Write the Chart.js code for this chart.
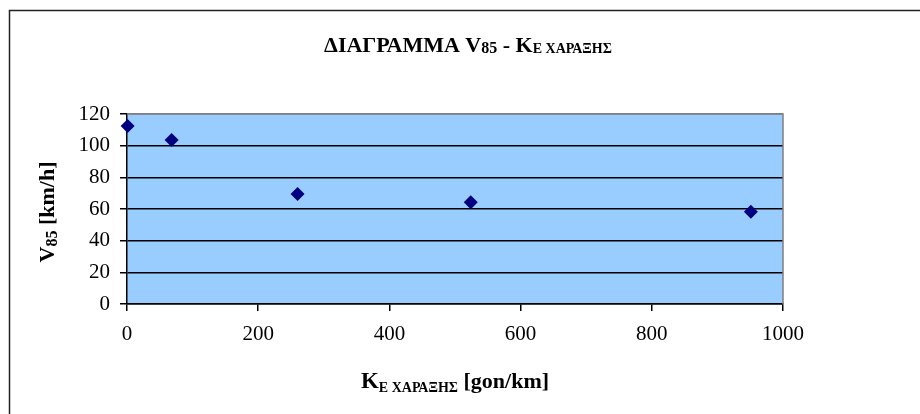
<!DOCTYPE html>
<html>
<head>
<meta charset="utf-8">
<script src="https://cdn.jsdelivr.net/npm/chart.js@4/dist/chart.umd.min.js"></script>
<style>
  html, body { margin: 0; padding: 0; background: #ffffff; }
  canvas { display: block; }
</style>
</head>
<body>
<canvas id="chart" width="920" height="414"></canvas>
<script>
// Curvature of the alignment (gon/km) and the operating speed V85 (km/h)
const kValues = [1, 68, 260, 524, 951];
const v85Values = [112.4, 103.6, 69.5, 64.2, 58.3];

// Axis ranges and steps
const xTicks = [0, 200, 400, 600, 800, 1000];
const yTicks = [0, 20, 40, 60, 80, 100, 120];

const SERIF = '"Liberation Serif", "Times New Roman", serif';

const points = kValues.map((k, i) => ({ x: k, y: v85Values[i] }));

// Draws a run of text pieces (each with its own font and baseline shift)
function drawRuns(ctx, runs, x, y, align) {
  let total = 0;
  runs.forEach(r => { ctx.font = r.font; r.w = ctx.measureText(r.text).width; total += r.w; });
  let cx = align === 'center' ? x - total / 2 : x;
  ctx.textAlign = 'left';
  ctx.textBaseline = 'alphabetic';
  runs.forEach(r => {
    ctx.font = r.font;
    ctx.fillText(r.text, cx, y + (r.dy || 0));
    cx += r.w;
  });
}

const decorPlugin = {
  id: 'decor',
  beforeDraw(chart) {
    const ctx = chart.ctx;
    const a = chart.chartArea;
    ctx.save();
    ctx.fillStyle = '#ffffff';
    ctx.fillRect(0, 0, chart.width, chart.height);
    // chart frame (top and left edges)
    ctx.strokeStyle = '#222222';
    ctx.lineWidth = 1.5;
    ctx.beginPath();
    ctx.moveTo(9.5, chart.height);
    ctx.lineTo(9.5, 10.5);
    ctx.lineTo(chart.width, 10.5);
    ctx.stroke();
    // plot area
    ctx.fillStyle = '#99CCFF';
    ctx.fillRect(a.left, a.top, a.right - a.left, a.bottom - a.top);
    ctx.restore();
  },
  beforeDatasetsDraw(chart) {
    const ctx = chart.ctx;
    const a = chart.chartArea;
    ctx.save();
    ctx.strokeStyle = '#808080';
    ctx.lineWidth = 1.5;
    ctx.beginPath();
    ctx.moveTo(a.left, a.top);
    ctx.lineTo(a.right, a.top);
    ctx.lineTo(a.right, a.bottom);
    ctx.stroke();
    ctx.restore();
  },
  afterDraw(chart) {
    const ctx = chart.ctx;
    const a = chart.chartArea;
    ctx.save();
    ctx.fillStyle = '#000000';
    // chart title
    drawRuns(ctx, [
      { text: 'ΔΙΑΓΡΑΜΜΑ V', font: 'bold 22px ' + SERIF },
      { text: '85', font: 'bold 16px ' + SERIF, dy: 1 },
      { text: ' - K', font: 'bold 22px ' + SERIF },
      { text: 'Ε ΧΑΡΑΞΗΣ', font: 'bold 14px ' + SERIF, dy: 1 }
    ], 468, 52, 'center');
    // x axis title
    drawRuns(ctx, [
      { text: 'K', font: 'bold 23px ' + SERIF },
      { text: 'Ε ΧΑΡΑΞΗΣ', font: 'bold 14px ' + SERIF, dy: 4 },
      { text: ' [gon/km]', font: 'bold 22px ' + SERIF }
    ], (a.left + a.right) / 2, 388, 'center');
    // y axis title (rotated)
    ctx.translate(54, (a.top + a.bottom) / 2 + 3);
    ctx.rotate(-Math.PI / 2);
    drawRuns(ctx, [
      { text: 'V', font: 'bold 22px ' + SERIF },
      { text: '85', font: 'bold 16px ' + SERIF, dy: 3 },
      { text: ' [km/h]', font: 'bold 22px ' + SERIF }
    ], 0, 0, 'center');
    ctx.restore();
  }
};

new Chart(document.getElementById('chart'), {
  type: 'scatter',
  data: {
    datasets: [{
      data: points,
      pointStyle: 'rectRot',
      pointRadius: 7,
      pointBackgroundColor: '#000080',
      pointBorderColor: '#000080',
      pointBorderWidth: 0,
      clip: false
    }]
  },
  options: {
    responsive: false,
    animation: false,
    events: [],
    layout: { padding: { left: 0, right: 137, top: 114, bottom: 70 } },
    plugins: { legend: { display: false }, tooltip: { enabled: false }, title: { display: false } },
    scales: {
      x: {
        type: 'linear',
        min: xTicks[0],
        max: xTicks[xTicks.length - 1],
        afterBuildTicks(scale) { scale.ticks = xTicks.map(v => ({ value: v })); },
        afterFit(scale) { scale.height = 40; },
        ticks: {
          color: '#000000',
          font: { family: SERIF, size: 21 },
          padding: 11,
          maxRotation: 0,
          callback: v => String(v)
        },
        grid: { drawOnChartArea: false, drawTicks: true, tickLength: 7, color: '#000000', lineWidth: 1.5 },
        border: { color: '#000000', width: 1.5 }
      },
      y: {
        type: 'linear',
        min: yTicks[0],
        max: yTicks[yTicks.length - 1],
        afterBuildTicks(scale) { scale.ticks = yTicks.map(v => ({ value: v })); },
        afterFit(scale) { scale.width = 127; },
        ticks: { color: '#000000', font: { family: SERIF, size: 21 }, padding: 10, callback: v => String(v) },
        grid: {
          drawTicks: true,
          tickLength: 7,
          color: c => (c.tick && c.tick.value === 120) ? '#808080' : '#000000',
          tickColor: '#000000',
          lineWidth: 1.5
        },
        border: { color: '#000000', width: 1.5 }
      }
    }
  },
  plugins: [decorPlugin]
});
</script>
</body>
</html>
